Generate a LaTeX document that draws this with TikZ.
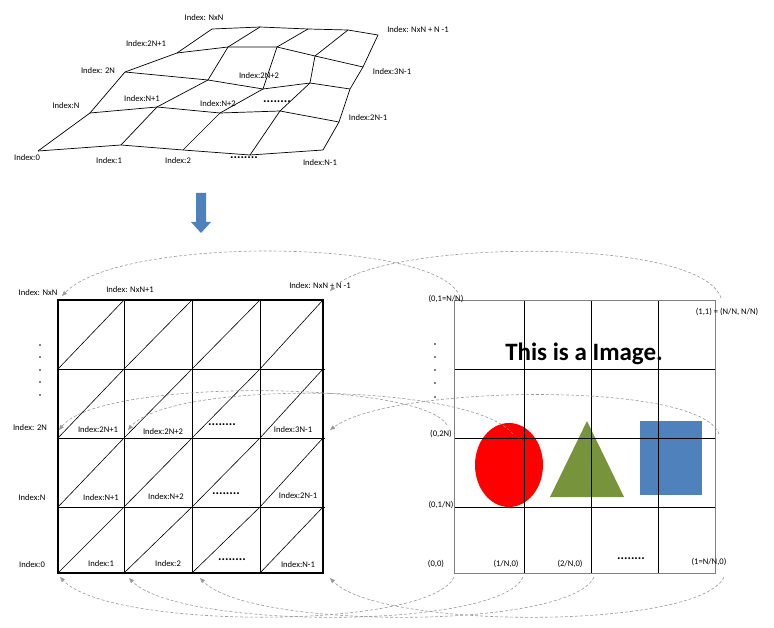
\documentclass[tikz,border=0pt]{standalone}
\usepackage{fontspec}
\setmainfont{Carlito}
\usetikzlibrary{arrows.meta}
\definecolor{arc}{HTML}{999999}
\definecolor{myblue}{HTML}{4F81BD}
\definecolor{mygreen}{HTML}{77933C}
\tikzset{
  lbl/.style={font=\fontsize{8.6}{9}\selectfont, inner sep=0pt},
  meshline/.style={line width=0.7pt},
  darc/.style={draw=arc, dashed, dash pattern=on 3pt off 2pt, line width=0.6pt, -{Triangle[length=5pt,width=4pt]}},
  dots/.style={font=\bfseries\fontsize{13}{13}\selectfont, inner sep=0pt}
}
\begin{document}
\begin{tikzpicture}[x=1pt,y=-1pt]
\useasboundingbox (0,0) rectangle (774,628);
\foreach \n/\x/\y in {
 a0/38/151, a1/121/145, a2/183/150, a3/250/155, a4/323/150,
 b0/90/113, b1/157/107, b2/220/113, b3/280/111, b4/339/122,
 c0/125/72, c1/208/80, c2/263/89, c3/310/83, c4/350/89,
 d0/177/53, d1/228/47, d2/277/47, d3/315/56, d4/363/67,
 e0/212/29, e1/260/27, e2/308/29, e3/348/30, e4/378/35}
 \coordinate (\n) at (\x,\y);
\foreach \r in {a,b,c,d,e}
 \draw[meshline] (\r0)--(\r1)--(\r2)--(\r3)--(\r4);
\foreach \c in {0,...,4}
 \draw[meshline] (a\c)--(b\c)--(c\c)--(d\c)--(e\c);
\node[lbl] (tnn) at (204,18) {Index: NxN};
\node[lbl] (t2n1) at (146,44) {Index:2N+1};
\node[lbl] (t2n) at (98,71) {Index: 2N};
\node[lbl] (tn) at (66,106) {Index:N};
\node[lbl] (t0) at (27,158) {Index:0};
\node[lbl] (t1) at (109,161) {Index:1};
\node[lbl] (t2) at (178,161) {Index:2};
\node[dots] (tdots1) at (244,158) {........};
\node[lbl] (tnm1) at (320,163) {Index:N-1};
\node[lbl] (tn1) at (142,99) {Index:N+1};
\node[lbl] (tn2) at (218,104) {Index:N+2};
\node[dots] (tdots2) at (277,102) {........};
\node[lbl] (t2n2) at (259,76) {Index:2N+2};
\node[lbl] (t3n1) at (392,72) {Index:3N-1};
\node[lbl] (t2nm1) at (368,118) {Index:2N-1};
\node[lbl] (tnnn) at (418,30) {Index: NxN + N -1};
\fill[myblue] (196,193) -- (206,193) -- (206,222) -- (211,222) -- (201,233) -- (191,222) -- (196,222) -- cycle;
\foreach \y/\yy in {300/369,369/438,438/507,507/573}
 \foreach \x/\xx in {58/124,124/192,192/260,260/323}
  \draw[line width=0.6pt] (\x,\yy) -- (\xx,\y);
\foreach \x in {124,192,260}
 \draw[line width=0.6pt] (\x,300) -- (\x,573);
\foreach \y in {369,438,507}
 \draw[line width=0.8pt] (58,\y) -- (325,\y);
\draw[line width=1.4pt] (58,300) rectangle (323,573);
\node[lbl] (lnn) at (38,293) {Index: NxN};
\node[lbl] (lnn1) at (130,290) {Index: NxN+1};
\node[lbl] (lnnn) at (320,286) {Index: NxN + N -1};
\foreach \y in {345,357,370,382,395} \fill (40,\y) circle (0.9);
\node[lbl] (l2n) at (30,428) {Index: 2N};
\node[lbl] (l2n1) at (98,430) {Index:2N+1};
\node[lbl] (l2n2) at (163,432) {Index:2N+2};
\node[dots] (ldots1) at (222,425) {........};
\node[lbl] (l3n1) at (293,430) {Index:3N-1};
\node[lbl] (ln) at (32,498) {Index:N};
\node[lbl] (ln1) at (101,498) {Index:N+1};
\node[lbl] (ln2) at (166,497) {Index:N+2};
\node[dots] (ldots2) at (226,494) {........};
\node[lbl] (l2nm1) at (298,496) {Index:2N-1};
\node[lbl] (l0) at (32,565) {Index:0};
\node[lbl] (l1) at (101,564) {Index:1};
\node[lbl] (l2) at (168,564) {Index:2};
\node[dots] (ldots3) at (232,560) {........};
\node[lbl] (lnm1) at (298,565) {Index:N-1};
\fill[red] (509,465) ellipse (34 and 42);
\fill[mygreen] (587,421) -- (624,497) -- (550,497) -- cycle;
\fill[myblue] (640,421) rectangle (702,495);
\foreach \x in {524,591,658} \draw[line width=0.7pt] (\x,300) -- (\x,573);
\foreach \y in {369,438,507} \draw[line width=0.7pt] (454,\y) -- (715,\y);
\draw[draw=gray, line width=0.6pt] (454,300) rectangle (715,573);
\node[font=\bfseries\fontsize{25}{27}\selectfont, inner sep=0pt] (title) at (584,354) {This is a Image.};
\node[lbl] (r01) at (446,299) {(0,1=N/N)};
\node[lbl] (r11) at (727,312) {(1,1) = (N/N, N/N)};
\foreach \y in {344,357,370,383,397} \fill (435,\y) circle (0.9);
\node[lbl] (r02n) at (441,434) {(0,2N)};
\node[lbl] (r01n) at (441,505) {(0,1/N)};
\node[lbl] (r00) at (436,564) {(0,0)};
\node[lbl] (r1n) at (506,564) {(1/N,0)};
\node[lbl] (r2n) at (570,564) {(2/N,0)};
\node[dots] (rdots) at (631,559) {........};
\node[lbl] (rnn) at (709,562) {(1=N/N,0)};
\coordinate (s1) at (460,297); \coordinate (e1) at (62,296);
\coordinate (s2) at (721,298); \coordinate (e2) at (330,291);
\coordinate (s3) at (447,425); \coordinate (e3) at (59,430);
\coordinate (s4) at (513,434); \coordinate (e4) at (128,430);
\coordinate (s5) at (719,434); \coordinate (e5) at (330,430);
\coordinate (s6) at (454,577); \coordinate (e6) at (60,577);
\coordinate (s7) at (523,577); \coordinate (e7) at (129,578);
\coordinate (s8) at (594,577); \coordinate (e8) at (200,578);
\coordinate (s9) at (724,577); \coordinate (e9) at (330,578);
\draw[darc] (s1) .. controls (440,238) and (120,235) .. (e1);
\draw[darc] (s2) .. controls (700,235) and (380,240) .. (e2);
\draw[darc] (s3) .. controls (420,380) and (100,378) .. (e3);
\draw[darc] (s4) .. controls (470,382) and (170,380) .. (e4);
\draw[darc] (s5) .. controls (700,380) and (390,385) .. (e5);
\draw[darc] (s6) .. controls (430,630) and (110,630) .. (e6);
\draw[darc] (s7) .. controls (500,630) and (180,630) .. (e7);
\draw[darc] (s8) .. controls (570,630) and (250,630) .. (e8);
\draw[darc] (s9) .. controls (700,630) and (380,630) .. (e9);
\end{tikzpicture}
\end{document}
